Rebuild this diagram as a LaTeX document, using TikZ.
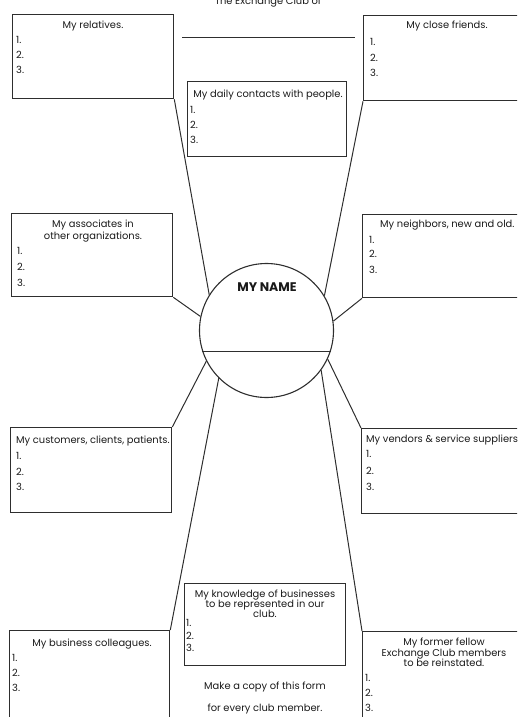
\documentclass[tikz,border=0pt]{standalone}
\usepackage{fontspec}
\setmainfont{Poppins}
\usetikzlibrary{positioning}

\definecolor{inkgray}{HTML}{2E2E2E}

\tikzset{
  listbox/.style={draw=inkgray, line width=1.3pt, rectangle, inner sep=0pt, anchor=north west},
  spoke/.style={draw=inkgray, line width=1pt},
  head/.style={font=\fontsize{9.9}{11}\selectfont, text=black!90, anchor=base, inner sep=0pt},
  lefthead/.style={head, anchor=base west},
  numbr/.style={head, anchor=base west}
}

\begin{document}
\begin{tikzpicture}[x=1pt, y=-1pt]
  \useasboundingbox (0,0) rectangle (517,717);
  \clip (0,0) rectangle (517,717);

  % heading line for the club name
  \node[head] (club) at (268,5) {The Exchange Club of};
  \coordinate (blankL) at (182,38);
  \coordinate (blankR) at (355,38);
  \draw[spoke] (blankL) -- (blankR);

  % the centre circle
  \node[circle, draw=inkgray, line width=1.1pt, minimum size=134pt, inner sep=0pt] (me) at (266.5,330.5) {};
  \node[font=\fontsize{12.5}{14}\selectfont\bfseries, text=black!90, anchor=base, inner sep=0pt] (myname) at (267,291) {MY NAME};
  \draw[spoke] (me.198.7) -- (me.-18.7);

  % boxes, top row
  \node[listbox, minimum width=161pt, minimum height=84pt] (rel) at (12,14) {};
  \node[head] (relT) at (93,29) {My relatives.};
  \foreach \i/\y in {1/44,2/59,3/74} \node[numbr] (rel-\i) at (16,\y) {\i.};

  \node[listbox, minimum width=160pt, minimum height=85pt] (friends) at (363,15) {};
  \node[head] (friendsT) at (447,29) {My close friends.};
  \foreach \i/\y in {1/46,2/61,3/76} \node[numbr] (friends-\i) at (370,\y) {\i.};

  \node[listbox, minimum width=159pt, minimum height=75pt] (daily) at (187,81) {};
  \node[head] (dailyT) at (268,97) {My daily contacts with people.};
  \foreach \i/\y in {1/113,2/128,3/143} \node[numbr] (daily-\i) at (190,\y) {\i.};

  % boxes, middle rows
  \node[listbox, minimum width=161pt, minimum height=83pt] (assoc) at (11,213) {};
  \node[head] (assocT) at (93,227) {My associates in};
  \node[head] (assocT2) at (93,239) {other organizations.};
  \foreach \i/\y in {1/254,2/270,3/286} \node[numbr] (assoc-\i) at (17,\y) {\i.};

  \node[listbox, minimum width=160pt, minimum height=83pt] (neigh) at (362,214) {};
  \node[lefthead] (neighT) at (380,227) {My neighbors, new and old.};
  \foreach \i/\y in {1/243,2/257,3/273} \node[numbr] (neigh-\i) at (369,\y) {\i.};

  \node[listbox, minimum width=161pt, minimum height=85pt] (cust) at (10,427) {};
  \node[lefthead] (custT) at (16,443) {My customers, clients, patients.};
  \foreach \i/\y in {1/459,2/475,3/490} \node[numbr] (cust-\i) at (16,\y) {\i.};

  \node[listbox, minimum width=160pt, minimum height=85pt] (vend) at (361,428) {};
  \node[lefthead] (vendT) at (366,442) {My vendors \& service suppliers};
  \foreach \i/\y in {1/457,2/474,3/490} \node[numbr] (vend-\i) at (366,\y) {\i.};

  % boxes, bottom row
  \node[listbox, minimum width=161pt, minimum height=82pt] (know) at (184,583) {};
  \node[head] (knowT) at (265,597) {My knowledge of businesses};
  \node[head] (knowT2) at (265,607) {to be represented in our};
  \node[head] (knowT3) at (265,617) {club.};
  \foreach \i/\y in {1/626,2/639,3/651} \node[numbr] (know-\i) at (186,\y) {\i.};

  \node[listbox, minimum width=160pt, minimum height=110pt] (coll) at (9,630) {};
  \node[head] (collT) at (92,646) {My business colleagues.};
  \foreach \i/\y in {1/661,2/676,3/691} \node[numbr] (coll-\i) at (12,\y) {\i.};

  \node[listbox, minimum width=160pt, minimum height=110pt] (former) at (362,631) {};
  \node[head] (formerT) at (444,645) {My former fellow};
  \node[head] (formerT2) at (444,656) {Exchange Club members};
  \node[head] (formerT3) at (444,666) {to be reinstated.};
  \foreach \i/\y in {1/681,2/696,3/711} \node[numbr] (former-\i) at (365,\y) {\i.};

  % note under the knowledge box
  \node[head] (note) at (265,689) {Make a copy of this form};
  \node[head] (note2) at (265,711) {for every club member.};

  % spokes from the circle
  \draw[spoke] (rel.south east) -- (me.148.3);
  \draw[spoke] (friends.south west) -- (me.31.7);
  \draw[spoke] (assoc.south east) -- (me.168.5);
  \draw[spoke] (neigh.south west) -- (me.8.1);
  \draw[spoke] (cust.north east) -- (me.207.5);
  \draw[spoke] (vend.north west) -- (me.-25.3);
  \draw[spoke] (coll.north east) -- (me.225);
  \draw[spoke] (former.north west) -- (me.-36.4);
\end{tikzpicture}
\end{document}
